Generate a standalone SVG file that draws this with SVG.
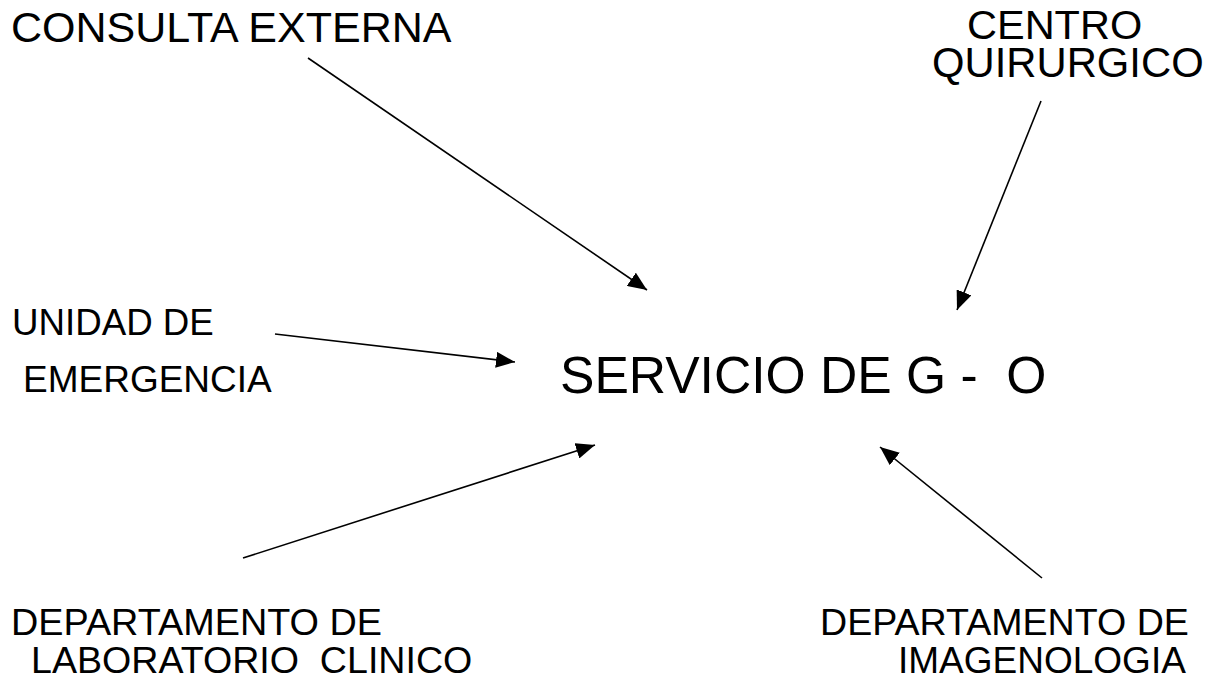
<svg xmlns="http://www.w3.org/2000/svg" width="1219" height="681" viewBox="0 0 1219 681">
<style>
text { font-family: "Liberation Sans", Arial, sans-serif; fill: #000; }
.edge { stroke: #000; stroke-width: 1.6; fill: none; marker-end: url(#arrow); }
</style>
<defs>
<marker id="arrow" markerUnits="userSpaceOnUse" markerWidth="20" markerHeight="16" viewBox="0 0 20 16" refX="19" refY="8" orient="auto">
<path d="M0,0 L19,8 L0,16 Z" fill="#000"/>
</marker>
</defs>
<rect width="1219" height="681" fill="#fff"/>
<g id="consulta"><text x="11" y="42" font-size="43">CONSULTA EXTERNA</text></g>
<g id="centro"><text x="967" y="39" font-size="41.5">CENTRO</text><text x="932" y="77" font-size="41.8">QUIRURGICO</text></g>
<g id="unidad"><text x="12" y="335" font-size="36.7">UNIDAD DE</text><text x="23" y="392" font-size="37">EMERGENCIA</text></g>
<g id="servicio"><text x="560" y="393" font-size="51.6" xml:space="preserve">SERVICIO DE G -  O</text></g>
<g id="laboratorio"><text x="11" y="635" font-size="37.8">DEPARTAMENTO DE</text><text x="31" y="673" font-size="37.6" xml:space="preserve">LABORATORIO  CLINICO</text></g>
<g id="imagenologia"><text x="820" y="635" font-size="37.6">DEPARTAMENTO DE</text><text x="898" y="673" font-size="37">IMAGENOLOGIA</text></g>
<g id="connectors">
<line class="edge" x1="308" y1="58" x2="647" y2="290"/>
<line class="edge" x1="1041" y1="101" x2="957" y2="310"/>
<line class="edge" x1="275" y1="334" x2="515" y2="362"/>
<line class="edge" x1="243" y1="558" x2="595" y2="445"/>
<line class="edge" x1="1042" y1="578" x2="880" y2="447"/>
</g>
</svg>
